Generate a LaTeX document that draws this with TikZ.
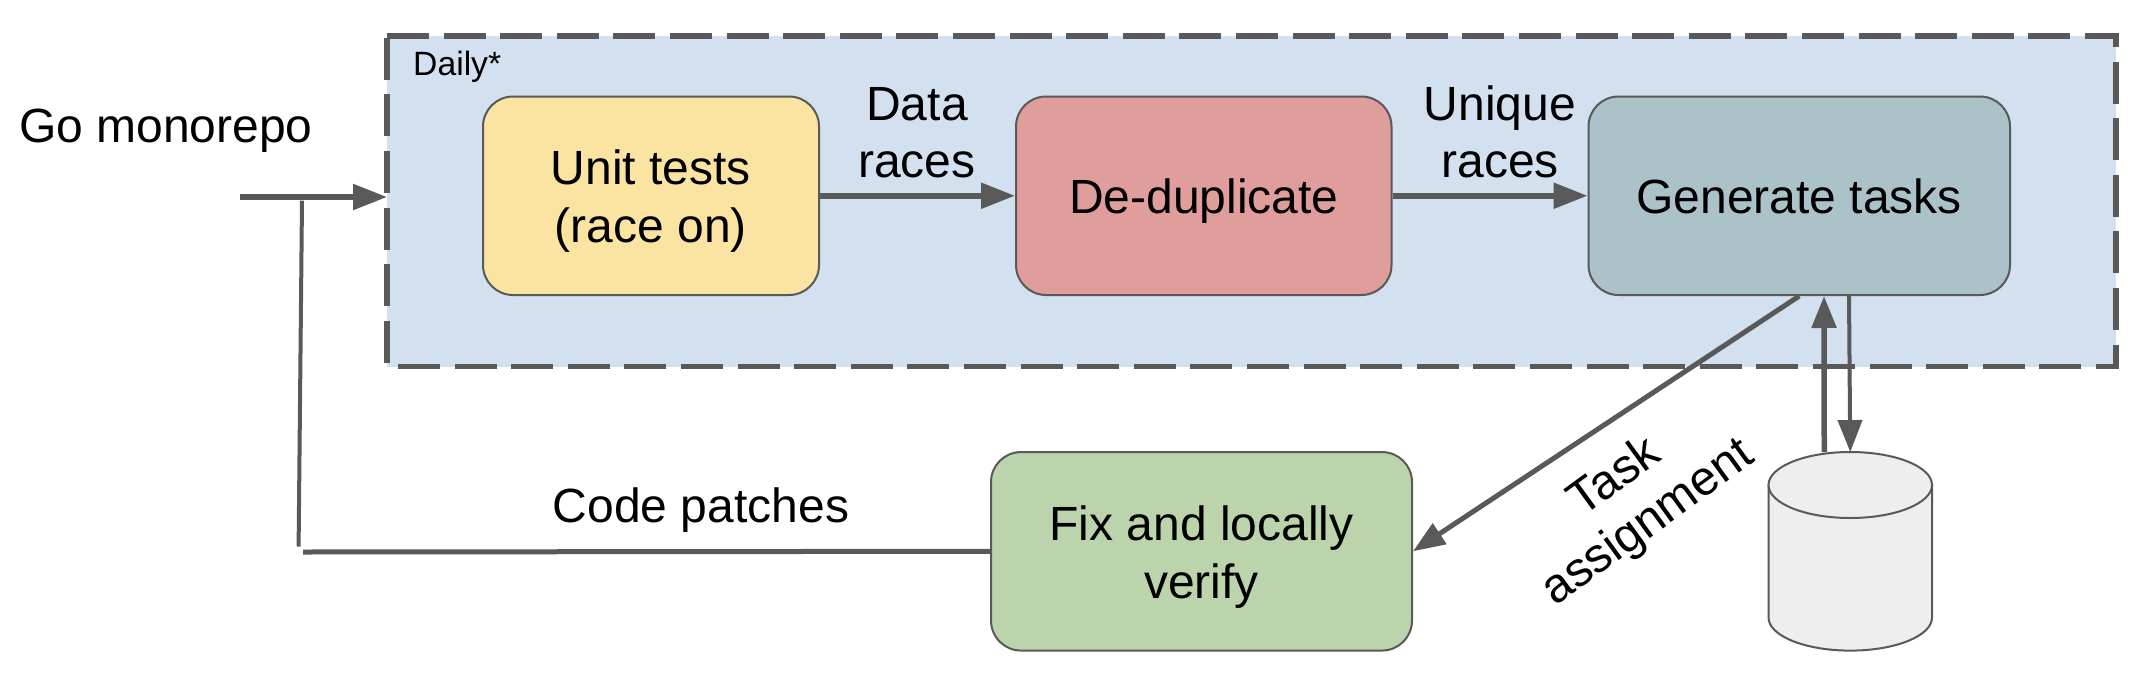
\documentclass[tikz,border=0pt]{standalone}
\usepackage{fontspec}
\setmainfont{Liberation Sans}
\usetikzlibrary{arrows.meta}
\definecolor{linec}{HTML}{595959}
\definecolor{panelc}{HTML}{D3E0F0}
\definecolor{yellowc}{HTML}{FBE4A2}
\definecolor{redc}{HTML}{DF9D9C}
\definecolor{tealc}{HTML}{ABC2C8}
\definecolor{greenc}{HTML}{BBD4AB}
\definecolor{dbc}{HTML}{EEEEEE}
% a line whose baseline lies a given distance from the node's centre
\newcommand{\atbase}[2]{\makebox[0pt]{\raisebox{#1}[0pt][0pt]{#2}}}
\tikzset{
  txt/.style={font=\fontsize{48}{57}\selectfont,text=black,inner sep=0pt,align=center},
  stepbox/.style={draw=linec,line width=2pt,rounded corners=30pt,inner sep=0pt,
    font=\fontsize{48}{57.5}\selectfont,text=black,minimum height=198.5pt},
  flow/.style={draw=linec,line width=5.5pt,-{Triangle[length=34pt,width=25pt]}},
  thinflow/.style={draw=linec,line width=4.5pt,-{Triangle[length=32pt,width=24pt]}},
  plain/.style={draw=linec,line width=4pt},
}
\begin{document}
\begin{tikzpicture}[x=1pt,y=-1pt]
\useasboundingbox[fill=white] (0,0) rectangle (2138,672);
\node[fill=panelc,outer sep=0pt,minimum width=1729pt,minimum height=330.5pt,inner sep=0pt] (panel) at (1251.5,201.25) {};
\draw[draw=linec,line width=5.5pt,dash pattern=on 42pt off 14.6pt] (panel.north west) -- (panel.north east) -- (panel.south east) -- (panel.south west) -- cycle;
\node[font=\fontsize{33.7}{40}\selectfont,inner sep=0pt,anchor=base west] (daily) at (413,75) {Daily*};
\node[stepbox,fill=yellowc,minimum width=336pt] (unit) at (651,195.75) {\atbase{11.75pt}{Unit tests}\atbase{-46.25pt}{(race on)}};
\node[stepbox,fill=redc,minimum width=375.5pt] (dedup) at (1203.75,195.75) {\atbase{-17.25pt}{De-duplicate}};
\node[stepbox,fill=tealc,minimum width=421.5pt] (gen) at (1799.25,195.75) {\atbase{-17.25pt}{Generate tasks}};
\node[stepbox,fill=greenc,minimum width=421pt] (fix) at (1201.5,551.3) {\atbase{11.3pt}{Fix and locally}\atbase{-46.7pt}{verify}};
% storage cylinder
\node[minimum width=163.5pt,minimum height=198.5pt,inner sep=0pt,outer sep=0pt] (db) at (1850.25,551.3) {};
\path[fill=dbc,draw=linec,line width=2pt] (1768.5,485) -- (1768.5,617.6) arc[start angle=180,end angle=360,x radius=81.75pt,y radius=33pt] -- (1932,485) -- cycle;
\path[fill=dbc,draw=linec,line width=2pt] (1850.25,485) ellipse[x radius=81.75pt,y radius=33pt];
\node[txt,anchor=base west] (go) at (19,142.5) {Go monorepo};
\node[txt,anchor=base] (data) at (917,177.5) {Data\\races};
\node[txt,anchor=base] (uniq) at (1500,177.5) {Unique\\races};
\node[txt,anchor=base] (code) at (701,522) {Code patches};
\node[txt,font=\fontsize{48.5}{56}\selectfont,rotate=36] (task) at (1632,501) {Task\\assignment};
\coordinate (goin) at (240,197);
\coordinate (fbtop) at (302,200.6);
\coordinate (fbbot) at (298.6,546.5);
\coordinate (fbend) at (303,552);
\draw[flow] (goin) -- (goin -| panel.west);
\draw[flow] (unit.east) -- (dedup.west);
\draw[flow] (dedup.east) -- (gen.west);
\draw[thinflow,line width=5pt] (gen.south) -- (fix.east);
\draw[plain] (fbtop) -- (fbbot);
\draw[plain,line width=5pt] (fix.west) -- (fbend);
\draw[thinflow,line width=5.5pt] ([xshift=-26pt]db.north) -- ([xshift=24.75pt]gen.south);
\draw[thinflow,line width=4pt] ([xshift=49.75pt]gen.south) -- (db.north);
\end{tikzpicture}
\end{document}
